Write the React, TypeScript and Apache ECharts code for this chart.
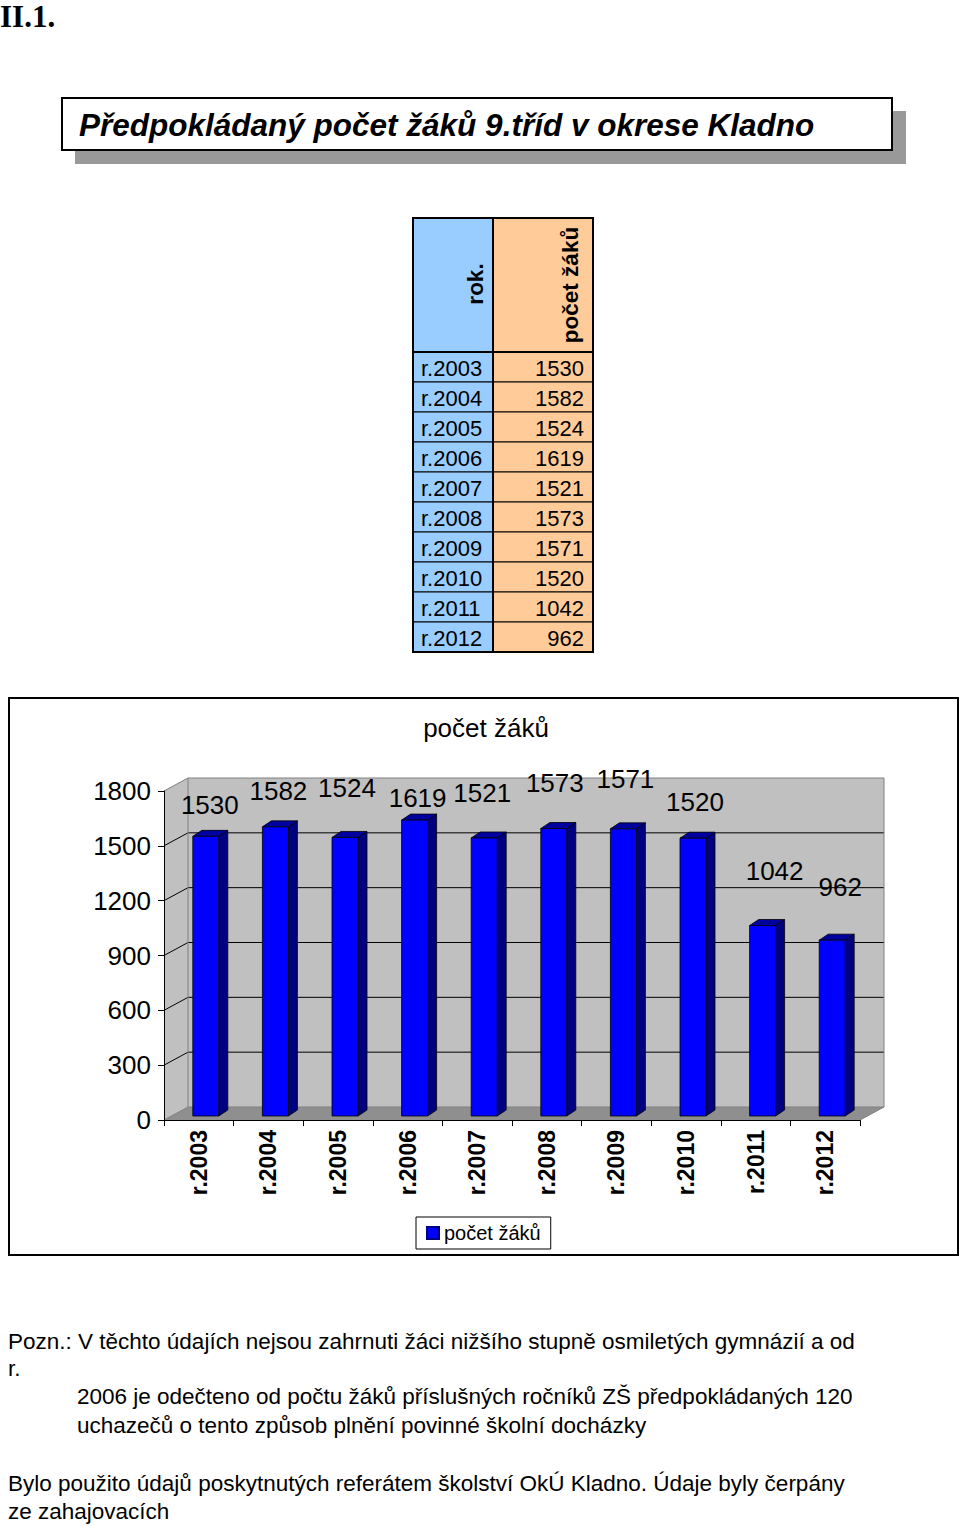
import React, { useEffect, useRef } from "react";
import * as echarts from "echarts";

// ---- data ----
const years = ["r.2003", "r.2004", "r.2005", "r.2006", "r.2007", "r.2008", "r.2009", "r.2010", "r.2011", "r.2012"];
const pupils = [1530, 1582, 1524, 1619, 1521, 1573, 1571, 1520, 1042, 962];
const yTicks = [0, 300, 600, 900, 1200, 1500, 1800];
const seriesName = "počet žáků";
const tableHeaders = ["rok.", "počet žáků"];
const pageLabel = "II.1.";
const pageTitle = "Předpokládaný počet žáků 9.tříd v okrese Kladno";
const noteLines = [
  "Pozn.: V těchto údajích nejsou zahrnuti žáci nižšího stupně osmiletých gymnázií a od",
  "r.",
  "2006 je odečteno od počtu žáků příslušných ročníků ZŠ předpokládaných 120",
  "uchazečů o tento způsob plnění povinné školní docházky",
  "Bylo použito údajů poskytnutých referátem školství OkÚ Kladno. Údaje byly čerpány",
  "ze zahajovacích",
];

// ---- styling (label nudges mimic the original 3D label placement) ----
const labelNudgeX = [4, 3, 2, 3, -2, 1, 2, 2, 12, 8];
const labelNudgeY = [-31, -36, -49, -22, -45, -45, -50, -36, -55, -53];
const noteX = [8, 8, 77, 77, 8, 8];
const noteY = [1341, 1368, 1396, 1425, 1483, 1511];

const FONT = 'Arial, "Liberation Sans", Helvetica, sans-serif';
const DEPTH_X = 24;
const DEPTH_Y = -13;

function buildGraphics() {
  const g: any[] = [];
  // page label
  g.push({
    type: "text", x: 0, y: 1, z: 10,
    style: { text: pageLabel, fill: "#000", font: 'bold 31px "Times New Roman", "Liberation Serif", serif', align: "left", verticalAlign: "top" },
  });
  // title box with shadow
  g.push({ type: "rect", shape: { x: 75, y: 111, width: 831, height: 53 }, style: { fill: "#999999" }, z: 1 });
  g.push({ type: "rect", shape: { x: 62, y: 98, width: 830, height: 52 }, style: { fill: "#fff", stroke: "#000", lineWidth: 2 }, z: 2 });
  g.push({
    type: "text", x: 79, y: 125, z: 3,
    style: { text: pageTitle, fill: "#000", font: `italic bold 31.5px ${FONT}`, align: "left", verticalAlign: "middle" },
  });

  // data table
  const L = 413, M = 493, R = 593, T = 218, HB = 352, RH = 30;
  const B = HB + RH * years.length;
  g.push({ type: "rect", shape: { x: L, y: T, width: M - L, height: HB - T }, style: { fill: "#99CCFF" }, z: 1 });
  g.push({ type: "rect", shape: { x: M, y: T, width: R - M, height: HB - T }, style: { fill: "#FFCC99" }, z: 1 });
  years.forEach((yr, i) => {
    const top = HB + i * RH;
    g.push({ type: "rect", shape: { x: L, y: top, width: M - L, height: RH }, style: { fill: "#99CCFF", stroke: "#000", lineWidth: 1 }, z: 1 });
    g.push({ type: "rect", shape: { x: M, y: top, width: R - M, height: RH }, style: { fill: "#FFCC99", stroke: "#000", lineWidth: 1 }, z: 1 });
    g.push({
      type: "text", x: 421, y: top + RH / 2 + 1, z: 3,
      style: { text: yr, fill: "#000", font: `22px ${FONT}`, align: "left", verticalAlign: "middle" },
    });
    g.push({
      type: "text", x: 584, y: top + RH / 2 + 1, z: 3,
      style: { text: String(pupils[i]), fill: "#000", font: `22px ${FONT}`, align: "right", verticalAlign: "middle" },
    });
  });
  g.push({ type: "line", shape: { x1: M, y1: T, x2: M, y2: B }, style: { stroke: "#000", lineWidth: 2 }, z: 2 });
  g.push({ type: "line", shape: { x1: L, y1: HB, x2: R, y2: HB }, style: { stroke: "#000", lineWidth: 2 }, z: 2 });
  g.push({ type: "rect", shape: { x: L, y: T, width: R - L, height: B - T }, style: { fill: "none", stroke: "#000", lineWidth: 2 }, z: 2 });
  g.push({
    type: "text", x: 475, y: 284, rotation: Math.PI / 2, z: 3,
    style: { text: tableHeaders[0], fill: "#000", font: `bold 22.5px ${FONT}`, align: "center", verticalAlign: "middle" },
  });
  g.push({
    type: "text", x: 570, y: 285, rotation: Math.PI / 2, z: 3,
    style: { text: tableHeaders[1], fill: "#000", font: `bold 22.5px ${FONT}`, align: "center", verticalAlign: "middle" },
  });

  // chart frame
  g.push({ type: "rect", shape: { x: 9, y: 698, width: 949, height: 557 }, style: { fill: "none", stroke: "#000", lineWidth: 2 }, z: 5 });
  g.push({
    type: "text", x: 486, y: 728, z: 3,
    style: { text: seriesName, fill: "#000", font: `26px ${FONT}`, align: "center", verticalAlign: "middle" },
  });

  // notes
  noteLines.forEach((line, i) => {
    g.push({
      type: "text", x: noteX[i], y: noteY[i], z: 3,
      style: { text: line, fill: "#000", font: `22.5px ${FONT}`, align: "left", verticalAlign: "middle" },
    });
  });
  return g;
}

function renderWalls(params: any, api: any) {
  const cs = params.coordSys;
  const x0 = cs.x, x1 = cs.x + cs.width, yt = cs.y, yb = cs.y + cs.height;
  const children: any[] = [
    {
      type: "polygon",
      shape: { points: [[x0, yb], [x0 + DEPTH_X, yb + DEPTH_Y], [x0 + DEPTH_X, yt + DEPTH_Y], [x0, yt]] },
      style: { fill: "#C0C0C0" },
    },
    {
      type: "rect",
      shape: { x: x0 + DEPTH_X, y: yt + DEPTH_Y, width: cs.width, height: cs.height },
      style: { fill: "#C0C0C0" },
    },
    {
      type: "polygon",
      shape: { points: [[x0, yb], [x1, yb], [x1 + DEPTH_X, yb + DEPTH_Y], [x0 + DEPTH_X, yb + DEPTH_Y]] },
      style: { fill: "#8F8F8F" },
    },
  ];
  yTicks.forEach((v) => {
    const y = api.coord([0, v])[1];
    const edge = v === yTicks[0] || v === yTicks[yTicks.length - 1];
    children.push({
      type: "polyline",
      shape: { points: [[x0, y], [x0 + DEPTH_X, y + DEPTH_Y], [x1 + DEPTH_X, y + DEPTH_Y]] },
      style: { stroke: edge ? "#808080" : "#000", lineWidth: 1, fill: "none" },
    });
  });
  children.push({
    type: "polyline",
    shape: { points: [[x0 + DEPTH_X, yb + DEPTH_Y], [x0 + DEPTH_X, yt + DEPTH_Y]] },
    style: { stroke: "#808080", lineWidth: 1, fill: "none" },
  });
  children.push({
    type: "polyline",
    shape: { points: [[x1 + DEPTH_X, yt + DEPTH_Y], [x1 + DEPTH_X, yb + DEPTH_Y], [x1, yb]] },
    style: { stroke: "#808080", lineWidth: 1, fill: "none" },
  });
  return { type: "group", children };
}

function renderBar(params: any, api: any) {
  const i = api.value(0);
  const v = api.value(1);
  const top = api.coord([i, v]);
  const base = api.coord([i, 0]);
  const fw = 26;
  const fx0 = top[0] - 6;
  const fx1 = fx0 + fw;
  const yt = top[1] - 4;
  const yb = base[1] - 4;
  const dx = 9, dy = -6;
  return {
    type: "group",
    children: [
      {
        type: "polygon",
        shape: { points: [[fx1, yt], [fx1 + dx, yt + dy], [fx1 + dx, yb + dy], [fx1, yb]] },
        style: { fill: "#000080", stroke: "#000", lineWidth: 0.8 },
      },
      {
        type: "polygon",
        shape: { points: [[fx0, yt], [fx0 + dx, yt + dy], [fx1 + dx, yt + dy], [fx1, yt]] },
        style: { fill: "#0000A0", stroke: "#000", lineWidth: 0.8 },
      },
      {
        type: "rect",
        shape: { x: fx0, y: yt, width: fw, height: yb - yt },
        style: { fill: "#0000FF", stroke: "#000", lineWidth: 0.8 },
      },
      {
        type: "text",
        x: fx0 + fw / 2 + labelNudgeX[params.dataIndex],
        y: yt + labelNudgeY[params.dataIndex],
        style: { text: String(v), fill: "#000", font: `26px ${FONT}`, align: "center", verticalAlign: "middle" },
      },
    ],
  };
}

export default function App() {
  const ref = useRef<HTMLDivElement>(null);
  useEffect(() => {
    if (!ref.current) return;
    const chart = echarts.init(ref.current, null, { renderer: "svg" });
    const option: any = {
      animation: false,
      backgroundColor: "#fff",
      grid: { left: 164, top: 791, width: 696, height: 329, containLabel: false, outerBoundsMode: "none" },
      xAxis: {
        type: "category",
        data: years,
        boundaryGap: true,
        axisLine: { show: true, lineStyle: { color: "#000", width: 1 } },
        axisTick: { show: true, length: 6, interval: 0, lineStyle: { color: "#000" } },
        axisLabel: { interval: 0, rotate: 90, margin: 10, color: "#000", fontSize: 23, fontWeight: "bold", fontFamily: FONT },
        splitLine: { show: false },
        z: 6,
      },
      yAxis: {
        type: "value",
        min: 0,
        max: 1800,
        interval: 300,
        axisLine: { show: true, lineStyle: { color: "#000", width: 1 } },
        axisTick: { show: true, length: 6, lineStyle: { color: "#000" } },
        axisLabel: {
          margin: 13,
          color: "#000",
          fontSize: 26,
          fontFamily: FONT,
          formatter: (val: number) => String(val),
        },
        splitLine: { show: false },
        z: 6,
      },
      legend: {
        data: [seriesName],
        left: 416,
        top: 1217,
        icon: "rect",
        itemWidth: 12,
        itemHeight: 12,
        padding: [6, 10],
        borderColor: "#000",
        borderWidth: 1,
        backgroundColor: "#fff",
        textStyle: { fontSize: 20, color: "#000", fontFamily: FONT },
      },
      graphic: buildGraphics(),
      series: [
        {
          type: "custom",
          name: "walls",
          silent: true,
          z: 1,
          data: [[0, 0]],
          encode: { x: 0, y: 1 },
          renderItem: renderWalls,
        },
        {
          type: "custom",
          name: seriesName,
          z: 3,
          data: pupils.map((v, i) => [i, v]),
          encode: { x: 0, y: 1 },
          itemStyle: { color: "#0000FF", borderColor: "#000080", borderWidth: 1 },
          renderItem: renderBar,
        },
      ],
    };
    chart.setOption(option);
    return () => chart.dispose();
  }, []);
  return (
    <div
      ref={ref}
      style={{ position: "absolute", left: 0, top: 0, width: 960, height: 1526, background: "#fff" }}
    />
  );
}
